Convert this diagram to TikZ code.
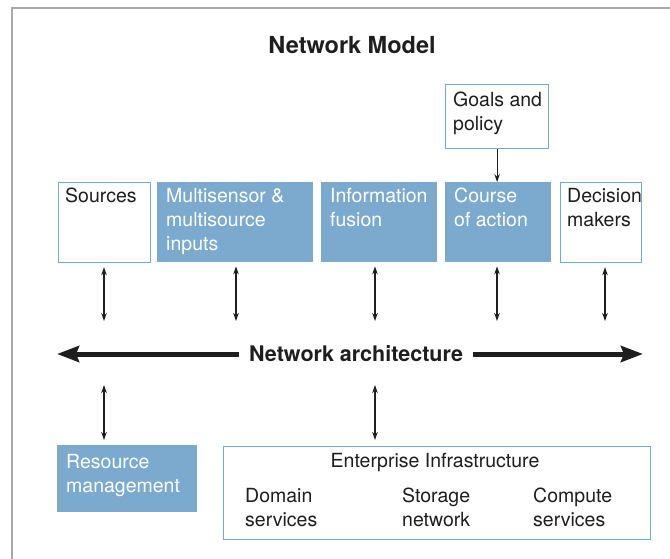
\documentclass[tikz,border=0pt]{standalone}
\usepackage{fontspec}
\setmainfont{TeX Gyre Heros}
\usetikzlibrary{arrows.meta}
\definecolor{boxfill}{RGB}{123,170,206}
\definecolor{boxedge}{RGB}{112,170,214}
\definecolor{framegray}{RGB}{168,168,168}
\definecolor{ink}{RGB}{30,30,30}
\begin{document}
\begin{tikzpicture}[x=1pt,y=-1pt,
  fillbox/.style={rectangle, fill=boxfill, draw=none, anchor=north west, inner sep=0pt},
  openbox/.style={rectangle, fill=white, draw=boxedge, line width=1.2pt, anchor=north west, inner sep=0pt},
  lbl/.style={anchor=north west, inner sep=0pt, align=left, font=\fontsize{19.5}{24}\selectfont},
  dark/.style={lbl, text=ink},
  light/.style={lbl, text=white},
  link/.style={draw=ink, line width=1.1pt, {Stealth[length=8pt,width=5.5pt]}-{Stealth[length=8pt,width=5.5pt]}},
  bigarrow/.style={draw=ink, line width=5pt, -{Stealth[length=22pt,width=16pt,inset=3pt]}},
]
\useasboundingbox (0,0) rectangle (670,558);
\draw[framegray, line width=1.6pt] (12,560) -- (12,8) -- (672,8);

% title
\node[font=\bfseries\fontsize{23.5}{28}\selectfont, text=ink] (title) at (352,45) {Network Model};

% boxes
\node[openbox, minimum width=103pt, minimum height=64pt] (goals) at (445,84) {};
\node[openbox, minimum width=92pt, minimum height=80pt] (sources) at (58,182) {};
\node[fillbox, minimum width=156pt, minimum height=80pt] (multi) at (157,182) {};
\node[fillbox, minimum width=116pt, minimum height=80pt] (fusion) at (321,182) {};
\node[fillbox, minimum width=106pt, minimum height=80pt] (course) at (445,182) {};
\node[openbox, minimum width=81pt, minimum height=80pt] (decision) at (560,182) {};
\node[fillbox, minimum width=140pt, minimum height=67pt] (resource) at (57,445) {};
\node[openbox, minimum width=427pt, minimum height=93pt] (enterprise) at (223,446) {};

% labels
\node[dark] (tgoals) at (453,92) {Goals and\\policy};
\node[dark] (tsources) at (65,188) {Sources};
\node[light] (tmulti) at (166,188) {Multisensor \&\\multisource\\inputs};
\node[light] (tfusion) at (330,188) {Information\\fusion};
\node[light] (tcourse) at (454,188) {Course\\of action};
\node[dark] (tdecision) at (567,188) {Decision\\makers};
\node[light] (tresource) at (66,454) {Resource\\management};
\node[dark, anchor=north, align=center] (tent) at (435,453) {Enterprise Infrastructure};
\node[dark] (tdomain) at (245,488) {Domain\\services};
\node[dark] (tstorage) at (402,488) {Storage\\network};
\node[dark] (tcompute) at (533,488) {Compute\\services};

% goals to course of action
\draw[draw=ink, line width=1.1pt, -{Stealth[length=8pt,width=5.5pt]}] (goals.south) -- (goals.south |- course.north);

% network architecture
\node[font=\bfseries\fontsize{21.5}{24}\selectfont, text=ink, fill=white, inner xsep=10pt, inner ysep=2pt] (net) at (356,354) {Network architecture};
\coordinate (netl) at (57,354);
\coordinate (netr) at (643,354);
\draw[bigarrow] (net.west) -- (netl);
\draw[bigarrow] (net.east) -- (netr);

% upper links
\coordinate (u1) at (104,321);
\coordinate (u2) at (236,321);
\coordinate (u3) at (375,321);
\coordinate (u4) at (497,321);
\coordinate (u5) at (605,321);
\draw[link, shorten <=4pt] (sources.south -| u1) -- (u1);
\draw[link, shorten <=4pt] (multi.south -| u2) -- (u2);
\draw[link, shorten <=4pt] (fusion.south -| u3) -- (u3);
\draw[link, shorten <=4pt] (course.south -| u4) -- (u4);
\draw[link, shorten <=4pt] (decision.south -| u5) -- (u5);

% lower links
\coordinate (d1) at (104,385);
\coordinate (d2) at (375,385);
\draw[link, shorten >=5pt] (d1) -- (d1 |- resource.north);
\draw[link, shorten >=6pt] (d2) -- (d2 |- enterprise.north);
\end{tikzpicture}
\end{document}
